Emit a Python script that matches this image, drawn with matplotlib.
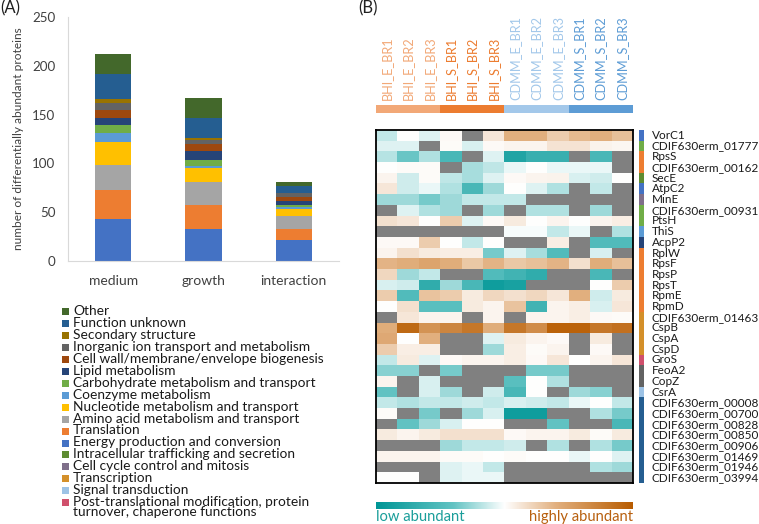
import numpy as np
import matplotlib.pyplot as plt
from matplotlib.colors import LinearSegmentedColormap, ListedColormap
from matplotlib.patches import Rectangle

plt.rcParams["font.family"] = ["Lato", "DejaVu Sans"]

W, H = 759, 524
N = np.nan

# ---- panel A: stacked bars (bottom -> top) ----
conditions = ["medium", "growth", "interaction"]
energy = [43, 33, 22]
translation = [30, 25, 11]
amino_acid = [25, 23, 13]
nucleotide = [24, 14, 7]
coenzyme = [9, 2, 2]
carbohydrate = [8, 7, 3]
lipid = [7, 9, 4]
cell_wall = [9, 7, 4]
inorganic_ion = [7, 4, 4]
secondary = [4, 2, 0]
function_unknown = [25, 20, 7]
other = [21, 21, 4]

stack_names = ["Energy production and conversion", "Translation",
               "Amino acid metabolism and transport", "Nucleotide metabolism and transport",
               "Coenzyme metabolism", "Carbohydrate metabolism and transport",
               "Lipid metabolism", "Cell wall/membrane/envelope biogenesis",
               "Inorganic ion transport and metabolism", "Secondary structure",
               "Function unknown", "Other"]
stack_values = [energy, translation, amino_acid, nucleotide, coenzyme, carbohydrate,
                lipid, cell_wall, inorganic_ion, secondary, function_unknown, other]
stack_colors = ["#4472C4", "#ED7D31", "#A5A5A5", "#FFC000", "#5B9BD5", "#70AD47",
                "#264478", "#9E480E", "#636363", "#997300", "#255E91", "#43682B"]

extra_names = ["Intracellular trafficking and secretion", "Cell cycle control and mitosis",
               "Transcription", "Signal transduction",
               "Post-translational modification, protein\nturnover, chaperone functions"]
extra_colors = ["#5E8C31", "#7F6F8A", "#D4902A", "#9DC3E6", "#D0506C"]

# ---- panel B: heatmap ----
samples = ["BHI_E_BR1", "BHI_E_BR2", "BHI_E_BR3", "BHI_S_BR1", "BHI_S_BR2", "BHI_S_BR3",
           "CDMM_E_BR1", "CDMM_E_BR2", "CDMM_E_BR3", "CDMM_S_BR1", "CDMM_S_BR2", "CDMM_S_BR3"]
sample_group = [0, 0, 0, 1, 1, 1, 2, 2, 2, 3, 3, 3]
group_colors = ["#F2A877", "#EC7C30", "#A3C8EA", "#5D9CD5"]

proteins = ["VorC1", "CDIF630erm_01777", "RpsS", "CDIF630erm_00162", "SecE", "AtpC2", "MinE",
            "CDIF630erm_00931", "PtsH", "ThiS", "AcpP2", "RplW", "RpsF", "RpsP", "RpsT",
            "RpmE", "RpmD", "CDIF630erm_01463", "CspB", "CspA", "CspD", "GroS", "FeoA2",
            "CopZ", "CsrA", "CDIF630erm_00008", "CDIF630erm_00700", "CDIF630erm_00828",
            "CDIF630erm_00850", "CDIF630erm_00906", "CDIF630erm_01469", "CDIF630erm_01946",
            "CDIF630erm_03994"]
# functional category per protein (index into annotation colours)
protein_cog = [0, 5, 1, 1, 12, 0, 13, 5, 5, 4, 6, 1, 1, 1, 1, 1, 1, 14, 14, 14, 14, 16,
               8, 8, 15, 10, 10, 10, 10, 10, 10, 10, 10]

abundance = [
    [-0.15, 0, -0.08, 0.03, N, 0.12, 0.4, 0.4, 0.25, 0.35, 0.4, 0.32],
    [-0.08, -0.08, N, 0.02, -0.1, 0.03, 0.05, 0.05, 0.14, 0.14, 0.06, 0.04],
    [-0.18, -0.38, -0.2, -0.55, N, -0.08, -0.8, -0.65, -0.65, N, -0.55, N],
    [0, 0.02, 0.02, N, -0.22, -0.16, -0.05, 0, -0.05, -0.05, -0.05, N],
    [0.05, -0.12, 0.02, -0.16, -0.22, -0.08, 0.03, 0.05, 0.06, -0.1, -0.12, 0],
    [0.12, -0.12, -0.05, -0.2, -0.55, -0.25, 0, -0.08, -0.2, N, -0.15, N],
    [-0.25, -0.25, -0.35, -0.25, -0.15, -0.15, -0.15, N, N, N, N, N],
    [N, -0.08, -0.2, -0.25, N, -0.25, N, -0.2, -0.2, N, -0.25, N],
    [0.15, 0.12, 0, 0.25, -0.08, 0.03, 0.1, 0, 0.05, 0, 0.05, 0.08],
    [N, N, N, N, N, N, -0.02, -0.02, -0.15, -0.05, N, -0.2],
    [0.03, 0.03, 0.25, 0, -0.15, 0, N, N, 0.08, N, -0.5, -0.5],
    [0.05, 0.15, 0.1, 0.08, 0.08, -0.35, -0.08, -0.22, -0.5, N, -0.1, N],
    [0.38, 0.42, 0.48, 0.42, 0.28, 0.38, 0.28, 0.32, 0.38, 0.15, 0.42, 0.32],
    [0.2, -0.25, -0.15, N, N, -0.5, -0.6, -0.7, N, N, -0.55, N],
    [-0.1, -0.12, -0.7, -0.25, -0.55, -0.9, -0.85, N, N, N, 0, 0.25],
    [0.25, -0.5, 0.3, 0.25, 0.1, 0.2, 0.15, 0.2, 0.12, 0.4, -0.12, 0.1],
    [0, 0.15, -0.45, -0.45, 0.1, 0.05, 0.3, -0.6, 0.05, 0.08, -0.1, 0.12],
    [N, 0.12, 0.05, 0.05, N, 0.05, N, 0.05, 0.05, 0.08, 0.03, 0.02],
    [0.42, 0.9, 0.6, 0.7, 0.8, 0.42, 0.8, 0.65, 0.95, 0.95, 0.8, 0.85],
    [0.45, 0, 0.4, N, N, -0.08, 0.1, 0.05, 0.03, N, 0.1, N],
    [0.25, 0.08, 0.08, N, N, -0.25, 0.08, 0.02, 0.05, N, 0.03, N],
    [-0.15, 0.1, -0.08, 0.03, 0.05, 0.05, 0.08, 0.03, 0.12, 0, 0.05, 0.12],
    [-0.3, -0.3, N, -0.35, N, N, N, -0.35, -0.35, N, N, N],
    [0.05, N, -0.1, N, N, N, -0.45, 0, -0.2, N, N, N],
    [-0.4, N, -0.1, -0.25, N, -0.12, -0.55, 0, N, -0.25, -0.3, N],
    [-0.15, -0.2, -0.15, -0.15, -0.12, -0.15, -0.1, -0.12, -0.15, -0.05, 0, -0.15],
    [0.02, N, -0.35, N, -0.25, -0.1, -0.9, -0.9, N, N, -0.2, -0.35],
    [N, -0.4, -0.25, -0.1, 0, 0, N, N, -0.4, N, N, -0.55],
    [0.1, 0.05, 0.1, 0.15, 0.15, 0.15, 0.03, 0.05, 0.05, 0.1, 0.02, 0.1],
    [N, N, N, -0.25, -0.15, -0.15, -0.12, N, -0.2, N, -0.2, -0.35],
    [0.05, 0.05, 0.05, 0.02, 0.02, 0, 0.02, 0, 0, -0.05, 0, -0.08],
    [N, N, N, -0.08, -0.05, -0.15, N, N, N, N, -0.2, -0.25],
    [0, 0, N, -0.08, -0.05, -0.05, N, N, N, N, N, N],
]


def axes_px(fig, left, top, width, height):
    return fig.add_axes([left / W, 1 - (top + height) / H, width / W, height / H])


def draw_bars(fig):
    ax = axes_px(fig, 68, 16.7, 271, 244.6)
    x = np.arange(len(conditions))
    bottom = np.zeros(len(conditions))
    for vals, color in zip(stack_values, stack_colors):
        ax.bar(x, vals, width=0.4, bottom=bottom, color=color, linewidth=0)
        bottom += np.array(vals)
    ax.set_xlim(-0.5, 2.5)
    ax.set_ylim(0, 250)
    ax.set_yticks(range(0, 251, 50))
    ax.set_xticks(x)
    ax.set_xticklabels(conditions, fontsize=10)
    ax.tick_params(axis="y", labelsize=9.6, length=0, pad=9, colors="#404040")
    ax.tick_params(axis="x", length=0, pad=10, colors="#404040")
    for side in ("top", "right"):
        ax.spines[side].set_visible(False)
    for side in ("left", "bottom"):
        ax.spines[side].set_color("#D9D9D9")
    ax.set_ylabel("number of differentially abundant proteins", fontsize=8.6, color="#404040",
                  labelpad=6)


def draw_legend(ov):
    names = stack_names[::-1] + extra_names
    colors = stack_colors[::-1] + extra_colors
    for i, (name, color) in enumerate(zip(names, colors)):
        yc = 311.7 + i * 11.94
        ov.add_patch(Rectangle((62, yc - 3.5), 7, 7, color=color, linewidth=0))
        ov.text(73, yc - 6.6, name, fontsize=9.9, va="top", ha="left", color="#1A1A1A",
                linespacing=0.82)


def draw_heatmap(fig, ov):
    left, top, width, height = 376, 130, 257, 353
    data = np.ma.masked_invalid(np.array(abundance, dtype=float))
    cmap = LinearSegmentedColormap.from_list(
        "ab", [(0.0, "#009696"), (0.3, "#62C3C3"), (0.5, "#FFFFFF"),
               (0.7, "#E2B07F"), (1.0, "#B85C00")])
    cmap.set_bad("#808080")

    ax = axes_px(fig, left, top, width, height)
    ax.imshow(data, cmap=cmap, vmin=-1, vmax=1, aspect="auto", interpolation="nearest")
    ax.set_xticks([])
    ax.set_yticks([])
    for sp in ax.spines.values():
        sp.set_linewidth(1.3)
        sp.set_color("black")

    # sample group band and labels
    band = axes_px(fig, left, 105, width, 7.7)
    band.imshow([sample_group], cmap=ListedColormap(group_colors), vmin=0, vmax=3,
                aspect="auto", interpolation="nearest")
    band.axis("off")
    col_w = width / len(samples)
    for i, name in enumerate(samples):
        ov.text(left + col_w * (i + 0.5), 100, name, rotation=90, ha="center", va="bottom",
                fontsize=9.2, color=group_colors[sample_group[i]])

    # functional category strip
    ann_colors = stack_colors + extra_colors
    strip = axes_px(fig, 639, top, 5, height)
    strip.imshow(np.array(protein_cog)[:, None], cmap=ListedColormap(ann_colors),
                 vmin=0, vmax=len(ann_colors) - 1, aspect="auto", interpolation="nearest")
    strip.axis("off")
    row_h = height / len(proteins)
    for i, name in enumerate(proteins):
        ov.text(652, top + row_h * (i + 0.5), name, ha="left", va="center", fontsize=8.5,
                color="#1A1A1A")

    # colour scale
    cb = axes_px(fig, left, 501.7, width, 7.6)
    cb.imshow([np.linspace(-1, 1, 256)], cmap=cmap, aspect="auto")
    cb.axis("off")
    ov.text(left, 517, "low abundant", ha="left", va="center", fontsize=10.6, color="#1A9E9A")
    ov.text(left + width, 517, "highly abundant", ha="right", va="center", fontsize=10.6,
            color="#B8600F")


def main():
    fig = plt.figure(figsize=(W / 100, H / 100), dpi=100)

    ov = fig.add_axes([0, 0, 1, 1])
    ov.set_xlim(0, W)
    ov.set_ylim(H, 0)
    ov.axis("off")
    ov.patch.set_visible(False)

    draw_bars(fig)
    draw_legend(ov)
    draw_heatmap(fig, ov)

    ov.text(0, 8, "(A)", fontsize=12, ha="left", va="center", color="#202020")
    ov.text(358, 8, "(B)", fontsize=12, ha="left", va="center", color="#202020")

    fig.savefig("out.png", dpi=100)


if __name__ == "__main__":
    main()
